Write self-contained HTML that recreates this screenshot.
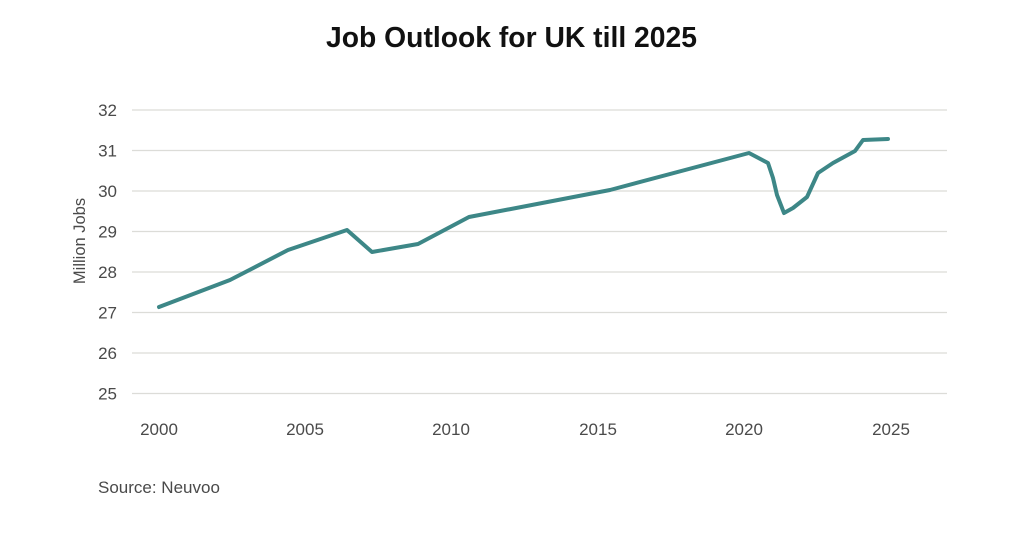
<!DOCTYPE html>
<html>
<head>
<meta charset="utf-8">
<style>
html,body{margin:0;padding:0;background:#fff;}
svg{display:block;}
</style>
</head>
<body>
<svg width="1024" height="555" viewBox="0 0 1024 555" xmlns="http://www.w3.org/2000/svg">
<rect width="1024" height="555" fill="#fff"/>
<text x="511.5" y="47" text-anchor="middle" font-family="Liberation Sans, sans-serif" font-weight="bold" font-size="29" fill="#111" textLength="371" lengthAdjust="spacingAndGlyphs">Job Outlook for UK till 2025</text>
<g stroke="#dcdcd8" stroke-width="1.2">
<line x1="132" y1="110" x2="947" y2="110"/>
<line x1="132" y1="150.5" x2="947" y2="150.5"/>
<line x1="132" y1="191" x2="947" y2="191"/>
<line x1="132" y1="231.5" x2="947" y2="231.5"/>
<line x1="132" y1="272" x2="947" y2="272"/>
<line x1="132" y1="312.5" x2="947" y2="312.5"/>
<line x1="132" y1="353" x2="947" y2="353"/>
<line x1="132" y1="393.5" x2="947" y2="393.5"/>
</g>
<g font-family="Liberation Sans, sans-serif" font-size="17" fill="#4a4a4a" text-anchor="end">
<text x="117" y="116">32</text>
<text x="117" y="156.5">31</text>
<text x="117" y="197">30</text>
<text x="117" y="237.5">29</text>
<text x="117" y="278">28</text>
<text x="117" y="318.5">27</text>
<text x="117" y="359">26</text>
<text x="117" y="399.5">25</text>
</g>
<g font-family="Liberation Sans, sans-serif" font-size="17" fill="#4a4a4a" text-anchor="middle">
<text x="159" y="435">2000</text>
<text x="305" y="435">2005</text>
<text x="451" y="435">2010</text>
<text x="598" y="435">2015</text>
<text x="744" y="435">2020</text>
<text x="891" y="435">2025</text>
</g>
<text transform="translate(85,241) rotate(-90)" text-anchor="middle" font-family="Liberation Sans, sans-serif" font-size="16.5" fill="#4a4a4a">Million Jobs</text>
<text x="98" y="493" font-family="Liberation Sans, sans-serif" font-size="17" fill="#4a4a4a">Source: Neuvoo</text>
<polyline fill="none" stroke="#3d8787" stroke-width="4" stroke-linejoin="round" stroke-linecap="round"
points="159,307 230,280 288,250 347,230 372,252 418,244 469,217 610,190 749,153 768,163 773,178 777,195 784,213 793,208 807,197 818,173 833,163 855,151 863,140 888,139"/>
</svg>
</body>
</html>
